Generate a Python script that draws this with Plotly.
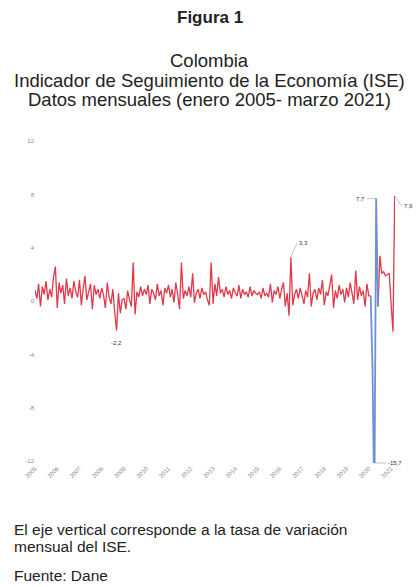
import pandas as pd
import plotly.graph_objects as go

# ---- data (monthly % variation of ISE, Jan 2005 - Mar 2021) ----
start_month = "2005-01-01"
ise_2005 = [0.8, 0.2, 1.3, -0.4, 1.1, 0.5, 1.5, 0.1, 0.9, 0.3, 1.8, 2.6]
ise_2006 = [-0.5, 1.4, 0.6, 1.2, -0.2, 1.7, 0.4, 1.0, 0.2, 1.5, 0.7, 0.3]
ise_2007 = [1.6, -0.3, 0.9, 1.9, 0.1, 0.8, 1.3, -0.6, 1.2, 0.5, 0.9, 0.2]
ise_2008 = [1.0, 0.4, -0.5, 1.4, 0.3, -0.2, 0.9, -0.8, -2.2, 0.6, -0.9, 0.1]
ise_2009 = [0.2, -0.6, 0.8, 0.1, -0.4, 2.9, -1.0, 0.7, 0.3, 1.1, 0.4, 0.9]
ise_2010 = [0.5, 1.2, -0.2, 0.9, 0.6, 0.1, 1.3, 0.4, 0.8, -0.3, 1.0, 0.6]
ise_2011 = [1.2, 0.3, 0.9, -0.1, 1.4, 0.5, -0.6, 2.9, 0.2, 0.8, 0.4, 1.1]
ise_2012 = [0.3, 2.1, -0.1, 0.6, 0.9, 0.2, 1.0, 0.5, 0.7, 0.1, -0.3, 2.9]
ise_2013 = [-0.2, 1.3, 0.4, 1.8, 0.6, 0.9, 0.3, 1.1, 0.5, 0.8, 0.2, 1.0]
ise_2014 = [0.6, 0.4, 1.2, 0.2, 0.9, 0.5, 0.7, 0.3, 1.1, 0.4, 0.8, 0.6]
ise_2015 = [0.5, 0.7, 0.2, 1.0, 0.4, 0.6, 0.3, 1.3, -0.1, 0.8, 0.5, 1.1]
ise_2016 = [0.2, 0.9, 1.4, -0.4, 0.6, -1.1, 3.3, -0.3, 0.5, 0.9, 0.2, 1.0]
ise_2017 = [0.4, -0.2, 0.8, 0.3, 2.1, -0.4, 0.6, 0.9, 0.1, 1.0, 0.5, 1.6]
ise_2018 = [-0.3, 0.7, 0.4, 1.1, 2.0, -0.5, 0.8, 0.2, 1.2, 0.5, 0.9, -0.1]
ise_2019 = [1.0, 0.3, 1.4, 0.6, -0.2, 2.3, 0.1, 1.1, 0.4, 0.8, -0.4, 1.3]
ise_2020 = [0.4, 0.4, -4.8, -15.7, 7.7, -0.4, 3.4, 2.1, 2.2, 1.9, 2.0, 2.1]
ise_2021 = [-0.2, -2.3, 7.9]

highlight_start = 181          # index of Feb 2020 (first month of the blue stretch)
highlight_end = 185            # index of Jun 2020 (last month of the blue stretch)

year_ticks = [str(y) for y in range(2005, 2022)]

title_lines = ["<b>Figura 1</b>", "Colombia",
               "Indicador de Seguimiento de la Economía (ISE)",
               "Datos mensuales (enero 2005- marzo 2021)"]
foot_lines = ["El eje vertical corresponde a la tasa de variación",
              "mensual del ISE.", "Fuente: Dane"]

labelled = {  # index -> (ax, ay, xanchor, arrow)
    44: (0, 8, "center", False),
    138: (6, -14, "left", True),
    184: (-9, 0, "right", True),
    194: (7, 10, "left", True),
    183: (12, 0, "left", True),
}

# ---- layout geometry (pixels) ----
W, H = 419, 587
L, R, T, B = 35, 24, 140, 124
PW, PH = W - L - R, H - T - B


def px_x(x):
    return (x - L) / PW


def px_y(y):
    return (H - B - y) / PH


# ---- build ----
values = (ise_2005 + ise_2006 + ise_2007 + ise_2008 + ise_2009 + ise_2010 + ise_2011 +
          ise_2012 + ise_2013 + ise_2014 + ise_2015 + ise_2016 + ise_2017 + ise_2018 +
          ise_2019 + ise_2020 + ise_2021)
dates = pd.date_range(start_month, periods=len(values), freq="MS")

red = [None if highlight_start < i < highlight_end else v for i, v in enumerate(values)]
blue = [v if highlight_start <= i <= highlight_end else None for i, v in enumerate(values)]

YMIN, YMAX = -12.15, 12.1

fig = go.Figure()
fig.add_trace(go.Scatter(x=dates, y=red, mode="lines",
                         line=dict(color="#e2394a", width=1.3), connectgaps=False,
                         hoverinfo="skip"))
fig.add_trace(go.Scatter(x=dates, y=blue, mode="lines",
                         line=dict(color="#7090d6", width=1.8), connectgaps=False,
                         hoverinfo="skip"))

lab_font = dict(size=6, color="#333333", family="Liberation Sans")
for idx, (ax, ay, xa, arrow) in labelled.items():
    v = values[idx]
    yv = max(v, YMIN)
    txt = f"{v:.1f}".replace(".", ",")
    if arrow:
        fig.add_annotation(x=dates[idx], y=yv, text=txt, showarrow=True,
                           arrowhead=0, arrowwidth=0.6, arrowcolor="#999999",
                           ax=ax, ay=ay, xanchor=xa, yanchor="middle", font=lab_font)
    else:
        fig.add_annotation(x=dates[idx], y=yv, text=txt, showarrow=False,
                           yshift=-ay, xanchor=xa, yanchor="top", font=lab_font)

# titles
for txt, ypx, size in zip(title_lines, [17.5, 60.5, 80, 99.5], [17, 18.5, 18.5, 18.5]):
    fig.add_annotation(x=px_x(W / 2), xref="paper", y=px_y(ypx), yref="paper",
                       text=txt, showarrow=False, xanchor="center", yanchor="middle",
                       font=dict(size=size, color="#222222", family="Liberation Sans"))

for txt, ypx in zip(foot_lines, [529, 546, 575]):
    fig.add_annotation(x=px_x(12), xref="paper", y=px_y(ypx), yref="paper",
                       text=txt, showarrow=False, xanchor="left", yanchor="middle",
                       font=dict(size=15.5, color="#222222", family="Liberation Sans"))

fig.update_layout(
    width=W, height=H,
    margin=dict(l=L, r=R, t=T, b=B),
    paper_bgcolor="white", plot_bgcolor="white",
    showlegend=False,
)

fig.update_xaxes(range=[dates[0], dates[-1] + pd.Timedelta(days=5)],
                 tickvals=[pd.Timestamp(f"{y}-01-01") for y in year_ticks],
                 ticktext=year_ticks, tickangle=-45,
                 tickfont=dict(size=6, color="#888888", family="Liberation Sans"),
                 showgrid=False, zeroline=False, showline=False, ticks="")
fig.update_yaxes(range=[YMIN, YMAX], tickvals=[12, 8, 4, 0, -4, -8, -12],
                 ticktext=["12", "8", "4", "0", "-4", "-8", "-12"],
                 tickfont=dict(size=6, color="#888888", family="Liberation Sans"),
                 showgrid=False, zeroline=False, showline=False, ticks="")

fig.write_html("out.html", config={"displayModeBar": False},
               post_script="document.body.style.margin='0';document.body.style.overflow='hidden';")
